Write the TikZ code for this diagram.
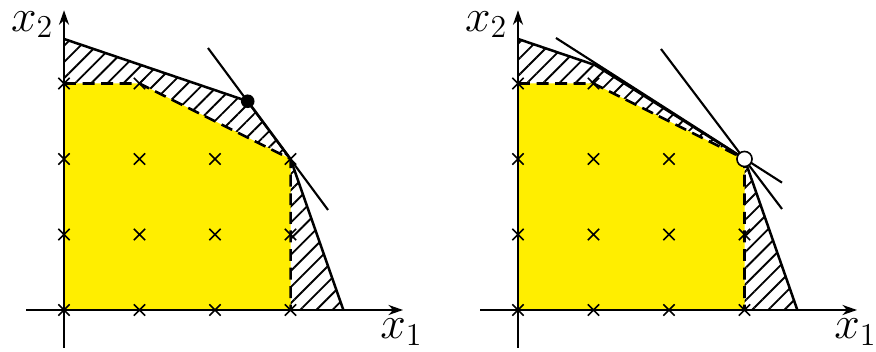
\documentclass[tikz,border=0pt]{standalone}
\usetikzlibrary{patterns.meta,arrows.meta}
\definecolor{lpyellow}{RGB}{255,238,0}
\tikzset{
  hatch/.style={pattern={Lines[angle=45,distance=4.3pt,line width=0.7pt]}},
  polyline/.style={line width=0.95pt,line join=round},
  cutline/.style={line width=0.8pt},
  dashbound/.style={line width=0.95pt,dash pattern=on 4.5pt off 2.5pt},
  axisline/.style={line width=0.8pt,-{Stealth[length=5.5pt,width=3.8pt]}},
  crossmark/.style={line width=0.55pt},
  lbl/.style={font=\fontsize{17.5}{20}\selectfont, inner sep=0pt},
  ptdot/.style={circle,inner sep=0pt,minimum size=0.18cm,fill=black},
  opendot/.style={circle,inner sep=0pt,minimum size=0.2cm,draw=black,line width=0.6pt,fill=white},
}
\newcommand\latticecrosses{%
  \foreach \x/\y in {0/0,1/0,2/0,3/0,0/1,1/1,2/1,3/1,0/2,1/2,2/2,3/2,0/3,1/3}
  {\draw[crossmark] (\x-0.075,\y-0.075) -- (\x+0.075,\y+0.075) (\x-0.075,\y+0.075) -- (\x+0.075,\y-0.075);}%
}
\begin{document}
\begin{tikzpicture}
\useasboundingbox (-0.848,-0.556) rectangle (10.755,4.106);
% ---------- left panel ----------
\begin{scope}
  \coordinate (LO) at (0,0);
  \coordinate (LA) at (0,3.59);
  \coordinate (LB) at (2.433,2.765);
  \coordinate (LC) at (3,2);
  \coordinate (LD) at (3.7,0);
  \coordinate (LT1) at (1.907,3.47);
  \coordinate (LT2) at (3.497,1.325);
  \fill[hatch] (LO) -- (LA) -- (LB) -- (LC) -- (LD) -- cycle;
  \fill[lpyellow] (0,0) -- (3,0) -- (3,2) -- (1,3) -- (0,3) -- cycle;
  \draw[dashbound] (0,3) -- (1,3) -- (3,2) -- (3,0);
  \draw[polyline] (LA) -- (LB) -- (LC) -- (LD);
  \draw[cutline] (LT1) -- (LT2);
  \latticecrosses
  \draw[axisline] (-0.5,0) -- (4.49,0);
  \draw[axisline] (0,-0.5) -- (0,3.97);
  \node[ptdot] (Ldot) at (LB) {};
  \node[lbl] (Lx2) at (-0.42,3.78) {$x_2$};
  \node[lbl] (Lx1) at (4.47,-0.29) {$x_1$};
\end{scope}
% ---------- right panel ----------
\begin{scope}[xshift=6.013cm]
  \coordinate (RO) at (0,0);
  \coordinate (RA) at (0,3.59);
  \coordinate (RB) at (1.024,3.243);
  \coordinate (RC) at (3,2);
  \coordinate (RD) at (3.7,0);
  \coordinate (RA1) at (0.503,3.603);
  \coordinate (RA2) at (3.497,1.687);
  \coordinate (RB1) at (1.894,3.457);
  \coordinate (RB2) at (3.497,1.338);
  \fill[hatch] (RO) -- (RA) -- (RB) -- (RC) -- (RD) -- cycle;
  \fill[lpyellow] (0,0) -- (3,0) -- (3,2) -- (1,3) -- (0,3) -- cycle;
  \draw[dashbound] (0,3) -- (1,3) -- (3,2) -- (3,0);
  \draw[polyline] (RA) -- (RB) -- (RC) -- (RD);
  \draw[cutline] (RA1) -- (RA2);
  \draw[cutline] (RB1) -- (RB2);
  \latticecrosses
  \draw[axisline] (-0.5,0) -- (4.49,0);
  \draw[axisline] (0,-0.5) -- (0,3.97);
  \node[opendot] (Rdot) at (RC) {};
  \node[lbl] (Rx2) at (-0.42,3.78) {$x_2$};
  \node[lbl] (Rx1) at (4.47,-0.29) {$x_1$};
\end{scope}
\end{tikzpicture}
\end{document}
